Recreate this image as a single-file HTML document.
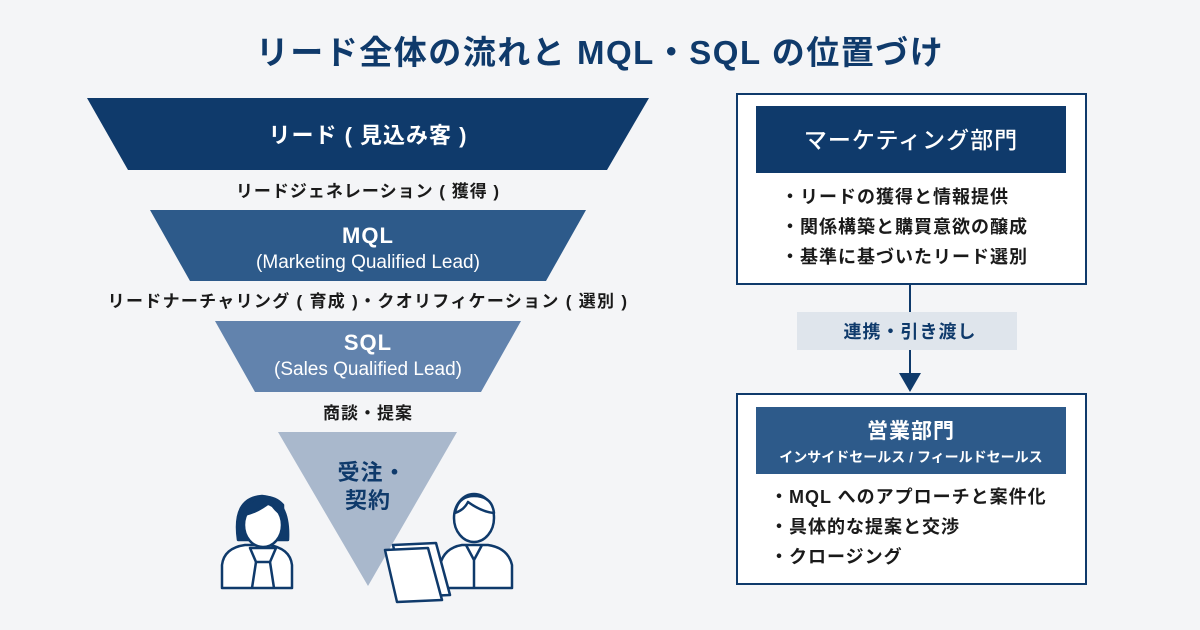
<!DOCTYPE html>
<html><head><meta charset="utf-8"><style>
html,body{margin:0;padding:0;background:#f4f5f7}
svg{display:block}
text{font-family:"Liberation Sans","Noto Sans CJK JP",sans-serif;font-weight:bold}
</style></head><body>
<svg width="1200" height="630" viewBox="0 0 1200 630">
<rect width="1200" height="630" fill="#f4f5f7"/>
<text x="600" y="64" text-anchor="middle" font-size="33" letter-spacing="1.5" fill="#0f3a6b">リード全体の流れと MQL・SQL の位置づけ</text>

<polygon points="87,98 649,98 607,170 128,170" fill="#0f3a6b"/>
<text x="368" y="143" text-anchor="middle" font-size="22" letter-spacing="1" fill="#fff">リード ( 見込み客 )</text>
<text x="368" y="197" text-anchor="middle" font-size="17" letter-spacing="1" fill="#1a1a1a">リードジェネレーション ( 獲得 )</text>

<polygon points="150,210 586,210 546,281 190,281" fill="#2d5a8a"/>
<text x="368" y="243" text-anchor="middle" font-size="22" letter-spacing="1" fill="#fff">MQL</text>
<text x="368" y="268" text-anchor="middle" font-size="19" fill="#fff" style="font-weight:500">(Marketing Qualified Lead)</text>
<text x="368" y="307" text-anchor="middle" font-size="17" letter-spacing="1.3" fill="#1a1a1a">リードナーチャリング ( 育成 )・クオリフィケーション ( 選別 )</text>

<polygon points="215,321 521,321 481,392 255,392" fill="#6283ad"/>
<text x="368" y="350" text-anchor="middle" font-size="22" letter-spacing="1" fill="#fff">SQL</text>
<text x="368" y="375" text-anchor="middle" font-size="19" fill="#fff" style="font-weight:500">(Sales Qualified Lead)</text>
<text x="368" y="419" text-anchor="middle" font-size="17" letter-spacing="1" fill="#1a1a1a">商談・提案</text>

<polygon points="278,432 457,432 368,586" fill="#a9b8cc"/>
<text x="372" y="480" text-anchor="middle" font-size="22" letter-spacing="1" fill="#0f3a6b">受注・</text>
<text x="368" y="508" text-anchor="middle" font-size="22" letter-spacing="1" fill="#0f3a6b">契約</text>

<g stroke="#0f3a6b" stroke-width="2.5" fill="#fff" stroke-linejoin="round">
<path d="M222,588 L222,565 Q224,548 245,545 L268,545 Q290,548 292,565 L292,588 Z"/>
<path d="M238,540 Q232,498 262,496 Q290,498 288,540 Z" fill="#0f3a6b"/>
<ellipse cx="263" cy="525" rx="19" ry="22"/>
<path d="M244,515 Q258,512 270,502 Q276,512 283,515 L283,505 Q275,496 262,497 Q246,500 244,515Z" fill="#0f3a6b"/>
<path d="M250,548 L276,548 L270,562 L256,562 Z"/>
<path d="M256,562 L252,588 M270,562 L274,588" fill="none"/>
</g>
<g stroke="#0f3a6b" stroke-width="2.5" fill="#fff" stroke-linejoin="round">
<path d="M440,588 L440,565 Q444,548 462,545 L488,545 Q508,548 512,565 L512,588 Z"/>
<ellipse cx="474" cy="518" rx="20" ry="24"/>
<path d="M455,513 Q458,496 474,496 Q492,496 494,513 Q482,512 468,502 Q464,510 455,513Z" fill="#fff"/>
<path d="M466,545 L474,560 L482,545 M474,560 L474,588" fill="none"/>
<path d="M393,545 L436,543 L450,595 L405,597 Z"/>
<path d="M385,550 L428,548 L442,600 L397,602 Z"/>
</g>

<rect x="737" y="94" width="349" height="190" fill="#fff" stroke="#0f3a6b" stroke-width="2"/>
<rect x="756" y="106" width="310" height="67" fill="#0f3a6b"/>
<text x="911" y="148" text-anchor="middle" font-size="23" letter-spacing="1" fill="#fff" style="font-weight:500">マーケティング部門</text>
<g font-size="18" letter-spacing="1" fill="#1a1a1a">
<text x="781" y="203">・リードの獲得と情報提供</text>
<text x="781" y="233">・関係構築と購買意欲の醸成</text>
<text x="781" y="263">・基準に基づいたリード選別</text>
</g>
<line x1="910" y1="284" x2="910" y2="375" stroke="#0f3a6b" stroke-width="2"/>
<polygon points="899,373 921,373 910,392" fill="#0f3a6b"/>
<rect x="797" y="312" width="220" height="38" fill="#dfe5ec"/>
<text x="910" y="338" text-anchor="middle" font-size="18" letter-spacing="1" fill="#0f3a6b">連携・引き渡し</text>

<rect x="737" y="394" width="349" height="190" fill="#fff" stroke="#0f3a6b" stroke-width="2"/>
<rect x="756" y="407" width="310" height="67" fill="#2d5a8a"/>
<text x="911" y="438" text-anchor="middle" font-size="21" letter-spacing="1" fill="#fff">営業部門</text>
<text x="911" y="462" text-anchor="middle" font-size="14" fill="#fff">インサイドセールス / フィールドセールス</text>
<g font-size="18" letter-spacing="1" fill="#1a1a1a">
<text x="770" y="503">・MQL へのアプローチと案件化</text>
<text x="770" y="533">・具体的な提案と交渉</text>
<text x="770" y="563">・クロージング</text>
</g>
</svg>
</body></html>
